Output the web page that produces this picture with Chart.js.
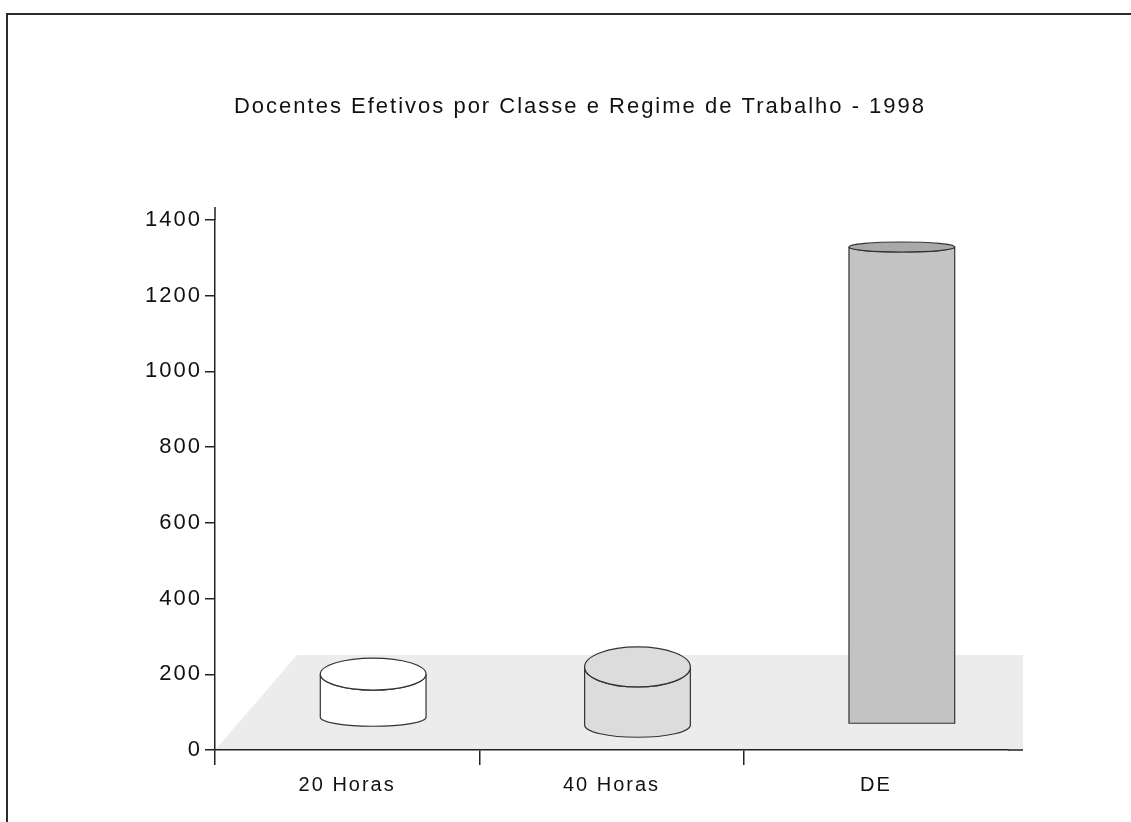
<!DOCTYPE html>
<html>
<head>
<meta charset="utf-8">
<script src="https://cdn.jsdelivr.net/npm/chart.js@4/dist/chart.umd.min.js"></script>
<style>
  body { margin: 0; background: #fff; }
  #frame { position: absolute; left: 6px; top: 13px; width: 1200px; height: 900px;
           border-left: 2px solid #2b2b2b; border-top: 2px solid #2b2b2b; }
  #myChart { position: absolute; left: 0; top: 0; }
</style>
</head>
<body>
<div id="frame"></div>
<canvas id="myChart" width="1131" height="822"></canvas>
<script>
// dados
var categorias = ["20 Horas", "40 Horas", "DE"];
var docentes = [116, 156, 1260];
var titulo = "Docentes Efetivos por Classe e Regime de Trabalho - 1998";

// aparência dos cilindros (cor lateral, cor do topo, achatamento, deslocamento 3D)
var corLado = ["#ffffff", "#dcdcdc", "#c3c3c3"];
var corTopo = ["#ffffff", "#dcdcdc", "#a9a9a9"];
var raioTopo = [16, 20, 5];
var raioBase = [9, 12, 0];
var elevacao = [32, 24, 26];
var desvioX = 26;
var fonte = "'Liberation Sans', Arial, sans-serif";

var espacamento = {
  id: "espacamento",
  beforeDraw: function(chart) {
    chart.ctx.letterSpacing = "2px";
    // piso
    var a = chart.chartArea;
    var y0 = chart.scales.y.getPixelForValue(0);
    var c = chart.ctx;
    c.save();
    c.fillStyle = "#ececec";
    c.beginPath();
    c.moveTo(a.left, y0);
    c.lineTo(a.right + 15, y0);
    c.lineTo(a.right + 15, y0 - 95);
    c.lineTo(a.left + 82, y0 - 95);
    c.closePath();
    c.fill();
    c.restore();
  },
  afterDatasetsDraw: function(chart) {
    var c = chart.ctx;
    var meta = chart.getDatasetMeta(0);
    c.save();
    c.strokeStyle = "#333";
    c.lineWidth = 1.2;
    meta.data.forEach(function(bar, i) {
      var w = bar.width / 2;
      var cx = bar.x + desvioX;
      var yt = bar.y - elevacao[i];
      var yb = bar.base - elevacao[i];
      c.beginPath();
      c.moveTo(cx - w, yt);
      c.lineTo(cx - w, yb);
      c.ellipse(cx, yb, w, raioBase[i], 0, Math.PI, 0, true);
      c.lineTo(cx + w, yt);
      c.ellipse(cx, yt, w, raioTopo[i], 0, 0, Math.PI, false);
      c.closePath();
      c.fillStyle = corLado[i];
      c.fill();
      c.stroke();
      c.beginPath();
      c.ellipse(cx, yt, w, raioTopo[i], 0, 0, Math.PI * 2);
      c.fillStyle = corTopo[i];
      c.fill();
      c.stroke();
    });
    c.restore();
  },
  afterDraw: function(chart) {
    var a = chart.chartArea;
    var c = chart.ctx;
    var y0 = chart.scales.y.getPixelForValue(0);
    c.save();
    c.strokeStyle = "#222";
    c.lineWidth = 1.5;
    c.beginPath();
    c.moveTo(a.left, a.top);
    c.lineTo(a.left, a.top - 13);
    c.moveTo(a.right, y0);
    c.lineTo(a.right + 15, y0);
    c.stroke();
    c.restore();
  }
};

var ctx = document.getElementById("myChart");
new Chart(ctx, {
  type: "bar",
  data: {
    labels: categorias,
    datasets: [{
      label: "Docentes",
      data: docentes,
      backgroundColor: "rgba(0,0,0,0)",
      borderWidth: 0,
      categoryPercentage: 1,
      barPercentage: 0.4
    }]
  },
  options: {
    responsive: false,
    animation: false,
    layout: {
      padding: { left: 100, right: 71, top: 94, bottom: 20 }
    },
    plugins: {
      legend: { display: false },
      tooltip: { enabled: false },
      title: {
        display: true,
        text: titulo,
        color: "#111",
        font: { family: fonte, size: 22, weight: "normal", lineHeight: 1.2 },
        padding: { top: 0, bottom: 99.6 }
      }
    },
    scales: {
      x: {
        grid: {
          display: true,
          drawOnChartArea: false,
          offset: true,
          tickLength: 15,
          lineWidth: 1.5,
          color: function(c) { return c.index === undefined ? "rgba(0,0,0,0)" : "#222"; }
        },
        border: { display: true, color: "#222", width: 1.5 },
        ticks: {
          color: "#111",
          padding: 8,
          font: { family: fonte, size: 20 }
        },
        afterFit: function(s) { s.height = 52; }
      },
      y: {
        min: 0,
        max: 1400,
        grid: {
          display: true,
          drawOnChartArea: false,
          tickLength: 10,
          lineWidth: 1.5,
          color: "#222"
        },
        border: { display: true, color: "#222", width: 1.5 },
        ticks: {
          stepSize: 200,
          color: "#111",
          padding: 3,
          font: { family: fonte, size: 22 },
          callback: function(v) { return String(v); }
        },
        afterFit: function(s) { s.width = 115; }
      },
      // eixo vazio à direita, só para reservar espaço
      margemDireita: {
        type: "linear",
        position: "right",
        display: true,
        grid: { display: false },
        border: { display: false },
        ticks: { display: false },
        afterFit: function(s) { s.width = 52; }
      }
    }
  },
  plugins: [espacamento]
});
</script>
</body>
</html>
